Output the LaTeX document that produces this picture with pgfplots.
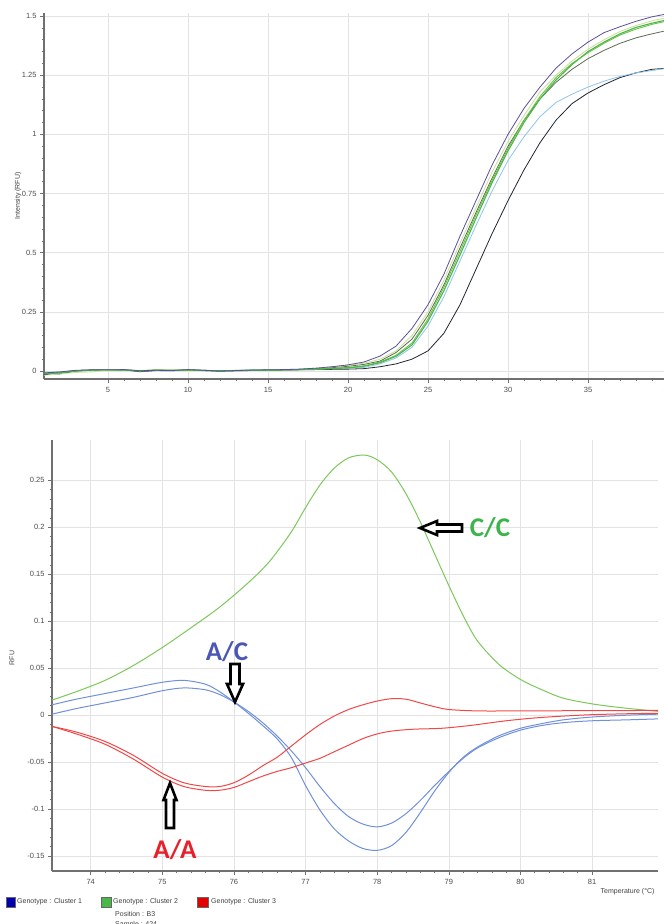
\documentclass[border=0pt]{standalone}
\usepackage{pgfplots}
\pgfplotsset{compat=1.18}
\usepackage{fontspec}
\setmainfont{Liberation Sans}
\newfontfamily\annot{Carlito}
\definecolor{cpurple}{HTML}{5A4F9A}
\definecolor{cgreen}{HTML}{4AB848}
\definecolor{cgreenb}{HTML}{6CC24A}
\definecolor{cpale}{HTML}{C8E096}
\definecolor{colive}{HTML}{5C6A50}
\definecolor{clblue}{HTML}{8CC4EC}
\definecolor{cblack}{HTML}{1E2630}
\definecolor{mgreen}{HTML}{7CC85A}
\definecolor{mblue}{HTML}{7090DA}
\definecolor{mred}{HTML}{F04848}
\definecolor{tgreen}{HTML}{3CB44B}
\definecolor{tblue}{HTML}{4A56B8}
\definecolor{tred}{HTML}{E8202A}
\definecolor{axgray}{HTML}{707070}
\pgfplotsset{rtstyle/.style={
  scale only axis,
  axis x line*=bottom, axis y line*=left,
  axis line style={axgray, line width=1.1pt, -},
  tick align=outside,
  major tick length=4pt, minor tick length=2.2pt,
  every tick/.style={axgray, line width=0.6pt},
  grid=major, major grid style={gray!22, line width=0.5pt},
  ticklabel style={font=\fontsize{7.5}{8}\selectfont, text=black!70},
  /pgf/number format/assume math mode=true,
  /pgf/number format/fixed, /pgf/number format/precision=2,
  scaled ticks=false,
  clip=false,
}}
\begin{document}
\begin{tikzpicture}
\useasboundingbox (0,0) rectangle (664pt,-924pt);
% ---------------- top panel ----------------
\begin{axis}[rtstyle,
  at={(44pt,-379pt)}, anchor=south west,
  width=624pt, height=366pt,
  xmin=1, xmax=40, ymin=-0.0338, ymax=1.513,
  xtick={5,10,15,20,25,30,35,40},
  ytick={0,0.25,0.5,0.75,1,1.25,1.5},
  minor x tick num=4, minor y tick num=4,
  xticklabel style={yshift=-1pt},
]
\addplot[cblack, line width=0.8pt] coordinates {
(1,-0.015)(2,-0.012)(3,0.0)(4,0.004)(5,0.004)(6,0.005)(7,-0.003)(8,0.002)(9,0.001)(10,0.005)
(11,0.002)(12,-0.001)(13,0.001)(14,0.002)(15,0.003)(16,0.004)(17,0.005)(18,0.006)(19,0.007)(20,0.008)
(21,0.01)(22,0.018)(23,0.03)(24,0.05)(25,0.085)(26,0.16)(27,0.28)(28,0.43)(29,0.58)(30,0.72)
(31,0.85)(32,0.965)(33,1.06)(34,1.13)(35,1.175)(36,1.21)(37,1.24)(38,1.26)(39,1.275)(40,1.28)};
\addplot[clblue, line width=0.8pt] coordinates {
(1,-0.006)(2,-0.003)(3,0.002)(4,0.004)(5,0.005)(6,0.004)(7,0.001)(8,0.003)(9,0.002)(10,0.004)
(11,0.003)(12,0.001)(13,0.002)(14,0.005)(15,0.006)(16,0.005)(17,0.006)(18,0.008)(19,0.01)(20,0.012)
(21,0.015)(22,0.03)(23,0.055)(24,0.1)(25,0.19)(26,0.315)(27,0.465)(28,0.615)(29,0.76)(30,0.89)
(31,0.99)(32,1.075)(33,1.135)(34,1.17)(35,1.2)(36,1.225)(37,1.245)(38,1.26)(39,1.27)(40,1.28)};
\addplot[colive, line width=0.8pt] coordinates {
(1,-0.01)(2,-0.006)(3,0.002)(4,0.004)(5,0.005)(6,0.005)(7,0.0)(8,0.003)(9,0.002)(10,0.005)
(11,0.003)(12,0.001)(13,0.002)(14,0.003)(15,0.004)(16,0.005)(17,0.007)(18,0.01)(19,0.014)(20,0.02)
(21,0.028)(22,0.042)(23,0.078)(24,0.135)(25,0.235)(26,0.365)(27,0.52)(28,0.67)(29,0.815)(30,0.95)
(31,1.06)(32,1.15)(33,1.22)(34,1.275)(35,1.32)(36,1.355)(37,1.385)(38,1.408)(39,1.425)(40,1.44)};
\addplot[cpale, line width=0.8pt] coordinates {
(1,-0.018)(2,-0.012)(3,-0.006)(4,-0.004)(5,0.004)(6,0.005)(7,0.002)(8,0.006)(9,0.004)(10,0.004)
(11,0.003)(12,0.002)(13,0.003)(14,0.004)(15,0.005)(16,0.006)(17,0.008)(18,0.012)(19,0.018)(20,0.024)
(21,0.033)(22,0.05)(23,0.085)(24,0.15)(25,0.25)(26,0.385)(27,0.54)(28,0.69)(29,0.84)(30,0.97)
(31,1.08)(32,1.18)(33,1.25)(34,1.31)(35,1.36)(36,1.4)(37,1.435)(38,1.46)(39,1.48)(40,1.495)};
\addplot[cgreenb, line width=0.9pt] coordinates {
(1,-0.01)(2,-0.006)(3,0.001)(4,0.004)(5,0.005)(6,0.005)(7,0.001)(8,0.004)(9,0.003)(10,0.004)
(11,0.002)(12,0.001)(13,0.002)(14,0.003)(15,0.004)(16,0.005)(17,0.006)(18,0.008)(19,0.011)(20,0.015)
(21,0.022)(22,0.038)(23,0.066)(24,0.118)(25,0.22)(26,0.355)(27,0.505)(28,0.66)(29,0.805)(30,0.94)
(31,1.06)(32,1.16)(33,1.24)(34,1.3)(35,1.345)(36,1.385)(37,1.42)(38,1.445)(39,1.465)(40,1.48)};
\addplot[cgreen, line width=1.1pt] coordinates {
(1,-0.012)(2,-0.008)(3,0.0)(4,0.004)(5,0.005)(6,0.004)(7,0.0)(8,0.004)(9,0.003)(10,0.004)
(11,0.002)(12,0.001)(13,0.002)(14,0.003)(15,0.004)(16,0.005)(17,0.006)(18,0.008)(19,0.01)(20,0.013)
(21,0.02)(22,0.035)(23,0.062)(24,0.11)(25,0.21)(26,0.34)(27,0.49)(28,0.645)(29,0.795)(30,0.93)
(31,1.05)(32,1.15)(33,1.23)(34,1.295)(35,1.35)(36,1.39)(37,1.425)(38,1.452)(39,1.47)(40,1.485)};
\addplot[cpurple, line width=0.8pt] coordinates {
(1,-0.008)(2,-0.004)(3,0.003)(4,0.005)(5,0.005)(6,0.006)(7,0.001)(8,0.003)(9,0.002)(10,0.006)
(11,0.003)(12,0.0)(13,0.002)(14,0.004)(15,0.005)(16,0.006)(17,0.008)(18,0.012)(19,0.018)(20,0.026)
(21,0.038)(22,0.063)(23,0.105)(24,0.18)(25,0.28)(26,0.41)(27,0.57)(28,0.72)(29,0.87)(30,1.0)
(31,1.11)(32,1.2)(33,1.28)(34,1.34)(35,1.39)(36,1.43)(37,1.455)(38,1.478)(39,1.497)(40,1.51)};
\end{axis}
\node[rotate=90, font=\fontsize{7}{8}\selectfont, text=black!75] at (18pt,-196pt) {Intensity (RFU)};
% ---------------- bottom panel ----------------
\begin{axis}[rtstyle,
  at={(52pt,-871pt)}, anchor=south west,
  width=606pt, height=431pt,
  xmin=73.46, xmax=81.92, ymin=-0.166, ymax=0.293,
  xtick={74,75,76,77,78,79,80,81},
  ytick={-0.15,-0.1,-0.05,0,0.05,0.1,0.15,0.2,0.25},
  minor x tick num=4, minor y tick num=4,
  xticklabel style={yshift=-1pt},
]
\addplot[mgreen, line width=1pt, smooth] coordinates {
(73.46,0.016)(73.8,0.025)(74.2,0.037)(74.6,0.053)(75.0,0.072)(75.4,0.093)(75.8,0.115)(76.2,0.141)
(76.5,0.164)(76.8,0.195)(77.0,0.221)(77.2,0.245)(77.4,0.263)(77.6,0.274)(77.82,0.277)(78.0,0.272)(78.2,0.259)
(78.4,0.236)(78.6,0.206)(78.8,0.172)(79.0,0.138)(79.2,0.106)(79.4,0.079)(79.7,0.054)(80.0,0.038)
(80.3,0.027)(80.6,0.018)(81.0,0.012)(81.4,0.008)(81.92,0.004)};
\addplot[mblue, line width=1pt, smooth] coordinates {
(73.46,0.011)(73.8,0.017)(74.2,0.023)(74.6,0.029)(75.0,0.035)(75.3,0.037)(75.6,0.033)(75.8,0.025)
(76.0,0.014)(76.2,0.002)(76.4,-0.011)(76.6,-0.025)(76.8,-0.045)(77.0,-0.075)(77.2,-0.101)(77.4,-0.121)
(77.6,-0.134)(77.8,-0.142)(78.0,-0.144)(78.2,-0.139)(78.4,-0.125)(78.6,-0.104)(78.8,-0.081)(79.0,-0.061)
(79.2,-0.045)(79.4,-0.034)(79.7,-0.022)(80.0,-0.014)(80.3,-0.009)(80.6,-0.005)(81.0,-0.002)(81.5,0.0)(81.92,0.001)};
\addplot[mblue, line width=1pt, smooth] coordinates {
(73.46,0.001)(73.8,0.007)(74.2,0.013)(74.6,0.019)(75.0,0.026)(75.3,0.029)(75.6,0.027)(75.8,0.022)
(76.0,0.014)(76.2,0.004)(76.4,-0.008)(76.6,-0.022)(76.8,-0.038)(77.0,-0.056)(77.2,-0.076)(77.4,-0.094)
(77.6,-0.108)(77.8,-0.116)(78.0,-0.119)(78.2,-0.115)(78.4,-0.105)(78.6,-0.091)(78.8,-0.075)(79.0,-0.06)
(79.2,-0.046)(79.4,-0.035)(79.7,-0.024)(80.0,-0.016)(80.3,-0.011)(80.6,-0.008)(81.0,-0.006)(81.5,-0.005)(81.92,-0.004)};
\addplot[mred, line width=1pt, smooth] coordinates {
(73.46,-0.012)(73.8,-0.02)(74.2,-0.031)(74.6,-0.047)(75.0,-0.066)(75.3,-0.076)(75.6,-0.08)(75.8,-0.08)
(76.0,-0.077)(76.2,-0.071)(76.4,-0.065)(76.6,-0.06)(76.8,-0.056)(77.0,-0.051)(77.2,-0.046)(77.4,-0.039)
(77.6,-0.032)(77.8,-0.025)(78.0,-0.02)(78.2,-0.017)(78.5,-0.015)(78.9,-0.014)(79.3,-0.011)(79.8,-0.006)
(80.2,-0.003)(80.6,-0.001)(81.0,0.0005)(81.5,0.0015)(81.92,0.002)};
\addplot[mred, line width=1pt, smooth] coordinates {
(73.46,-0.012)(73.8,-0.018)(74.2,-0.028)(74.6,-0.043)(75.0,-0.062)(75.3,-0.072)(75.6,-0.076)(75.8,-0.076)
(76.0,-0.072)(76.2,-0.064)(76.4,-0.054)(76.6,-0.045)(76.8,-0.033)(77.0,-0.021)(77.2,-0.01)(77.4,-0.001)
(77.6,0.006)(77.8,0.011)(78.0,0.015)(78.2,0.0175)(78.4,0.017)(78.6,0.013)(78.8,0.009)(79.0,0.006)
(79.4,0.0045)(80.0,0.0045)(81.0,0.0048)(81.92,0.005)};
\end{axis}
% annotations (absolute positions)
\draw[black, line width=2.6pt, fill=white, line join=miter]
  (420pt,-528pt) -- ++(17pt,7pt) -- ++(0,-3.5pt) -- ++(25pt,0) -- ++(0,-7pt) -- ++(-25pt,0) -- ++(0,-3.5pt) -- cycle;
\node[font=\annot\bfseries\fontsize{27}{27}\selectfont, text=tgreen] at (490pt,-528pt) {C/C};
\draw[black, line width=2.6pt, fill=white, line join=miter]
  (235pt,-702pt) -- ++(-8pt,18pt) -- ++(3.5pt,0) -- ++(0,20pt) -- ++(9pt,0) -- ++(0,-20pt) -- ++(3.5pt,0) -- cycle;
\node[font=\annot\bfseries\fontsize{27}{27}\selectfont, text=tblue] at (227pt,-652pt) {A/C};
\draw[black, line width=2.6pt, fill=white, line join=miter]
  (170pt,-783pt) -- ++(-6.5pt,-17pt) -- ++(2.5pt,0) -- ++(0,-28pt) -- ++(8pt,0) -- ++(0,28pt) -- ++(2.5pt,0) -- cycle;
\node[font=\annot\bfseries\fontsize{27}{27}\selectfont, text=tred] at (175pt,-850pt) {A/A};
\node[rotate=90, font=\fontsize{7}{8}\selectfont, text=black!75] at (12pt,-658pt) {RFU};
\node[anchor=east, font=\fontsize{7}{8}\selectfont, text=black!75] at (658pt,-892pt) {Temperature (°C)};
% legend
\begin{scope}[font=\fontsize{7}{8}\selectfont, text=black!75]
\filldraw[fill=blue!70!black, draw=black!60, line width=0.4pt] (6pt,-897pt) rectangle (15pt,-907pt);
\node[anchor=west, inner sep=0pt] at (17pt,-902pt) {Genotype : Cluster 1};
\filldraw[fill=cgreen, draw=black!60, line width=0.4pt] (101pt,-897pt) rectangle (111pt,-907pt);
\node[anchor=west, inner sep=0pt] at (113pt,-902pt) {Genotype : Cluster 2};
\filldraw[fill=red!90!black, draw=black!60, line width=0.4pt] (197pt,-897pt) rectangle (208pt,-907pt);
\node[anchor=west, inner sep=0pt] at (211pt,-902pt) {Genotype : Cluster 3};
\node[anchor=west, inner sep=0pt] at (115pt,-914pt) {Position : B3};
\node[anchor=west, inner sep=0pt] at (115pt,-925pt) {Sample : 424};
\end{scope}
\end{tikzpicture}
\end{document}
